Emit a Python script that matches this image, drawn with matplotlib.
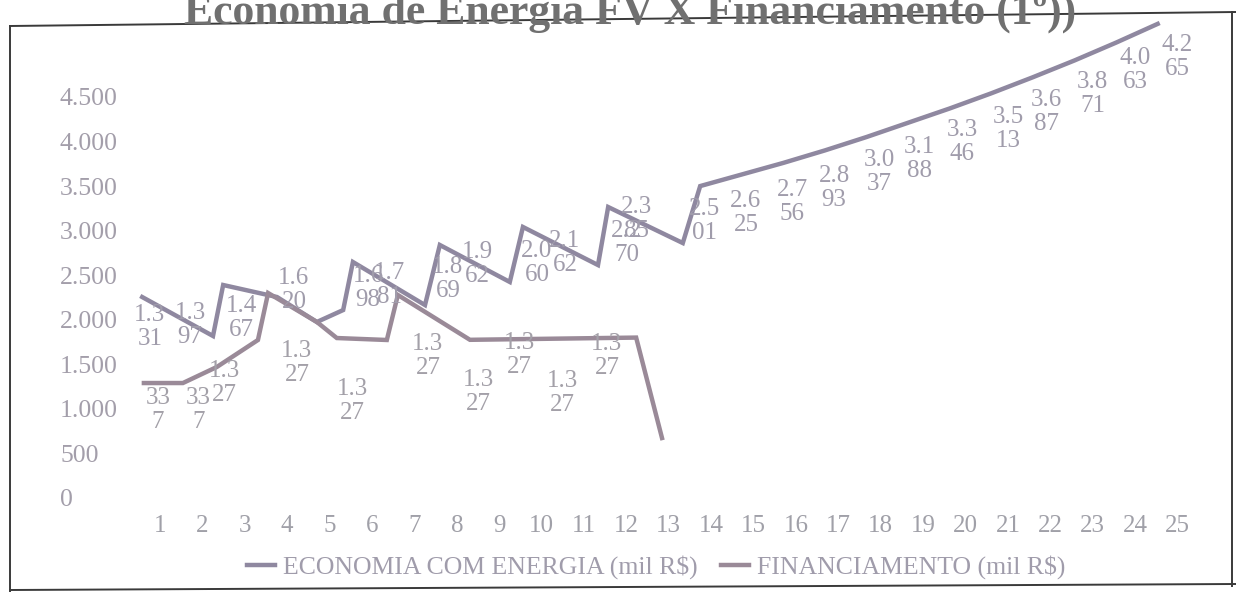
import matplotlib.pyplot as plt
from matplotlib.lines import Line2D

plt.rcParams['font.family'] = ['Liberation Serif', 'DejaVu Serif']

W, H = 1236, 592

# eixo x (anos) e eixo y
anos = list(range(1, 26))
y_ticks = [0, 500, 1000, 1500, 2000, 2500, 3000, 3500, 4000, 4500]
y_tick_labels = ['0', '500', '1.000', '1.500', '2.000', '2.500', '3.000', '3.500', '4.000', '4.500']

# linha ECONOMIA COM ENERGIA (tracado como aparece na figura)
econ_x = [0.58, 2.25, 2.49, 3.76, 4.70, 5.32, 5.55, 7.25, 7.60, 9.25, 9.56, 11.33, 11.57, 13.33,
          13.74, 14.72, 15.70, 16.68, 17.66, 18.64, 19.62, 20.60, 21.58, 22.57, 23.55, 24.53]
econ_v = [2255, 1818, 2390, 2255, 1975, 2109, 2648, 2165, 2839, 2424, 3041, 2614, 3265, 2861,
          3500, 3630, 3760, 3900, 4050, 4210, 4370, 4540, 4720, 4910, 5110, 5320]

# linha FINANCIAMENTO
fin_x = [0.62, 1.54, 2.34, 3.31, 3.55, 4.70, 5.17, 6.35, 6.61, 8.31, 12.23, 12.84]
fin_v = [1290, 1290, 1470, 1773, 2300, 1975, 1795, 1773, 2278, 1775, 1800, 673]

# rotulos de dados
econ_lbl = ['1.3\n31', '1.3\n97', '1.4\n67', '1.6\n20', '1.6\n98', '1.7\n81', '1.8\n69', '1.9\n62',
            '2.0\n60', '2.1\n62', '2.2\n70', '2.3\n85', '2.5\n01', '2.6\n25', '2.7\n56', '2.8\n93',
            '3.0\n37', '3.1\n88', '3.3\n46', '3.5\n13', '3.6\n87', '3.8\n71', '4.0\n63', '4.2\n65']
econ_lbl_x = [0.76, 1.71, 2.93, 4.16, 5.91, 6.42, 7.79, 8.48, 9.89, 10.55, 12.01, 12.25, 13.85,
              14.82, 15.91, 16.90, 17.96, 18.92, 19.92, 21.0, 21.90, 23.0, 24.0, 25.0]
econ_lbl_v = [1919, 1941, 2020, 2334, 2356, 2390, 2457, 2625, 2637, 2749, 2861, 3130, 3108,
              3198, 3321, 3478, 3658, 3804, 3994, 4140, 4331, 4533, 4802, 4948]

fin_lbl = ['33\n7', '33\n7', '1.3\n27', '1.3\n27', '1.3\n27', '1.3\n27', '1.3\n27', '1.3\n27',
           '1.3\n27', '1.3\n27']
fin_lbl_x = [0.95, 1.90, 2.53, 4.23, 5.53, 7.32, 8.50, 9.47, 10.50, 11.54]
fin_lbl_v = [987, 987, 1290, 1515, 1088, 1593, 1189, 1604, 1178, 1593]

fig = plt.figure(figsize=(W / 100, H / 100), dpi=100)
ax = fig.add_axes([100 / W, (H - 498) / H, 1120 / W, 498 / H])

l1, = ax.plot(econ_x, econ_v, color='#8f88a0', lw=3.2, solid_joinstyle='miter')
l2, = ax.plot(fin_x, fin_v, color='#9a8a98', lw=3.2, solid_joinstyle='miter')

for t, x, v in zip(econ_lbl, econ_lbl_x, econ_lbl_v):
    ax.text(x, v, t, ha='center', va='center', fontsize=18, color='#a09cab', linespacing=1.15)
for t, x, v in zip(fin_lbl, fin_lbl_x, fin_lbl_v):
    ax.text(x, v, t, ha='center', va='center', fontsize=18, color='#a3a0a8', linespacing=1.15)

ax.set_xlim(-0.415, 26.0)
ax.set_ylim(0, 5588)
ax.set_xticks(anos)
ax.set_xticklabels([str(a) for a in anos], fontsize=18, color='#a0a0a8')
ax.set_yticks(y_ticks)
ax.set_yticklabels(y_tick_labels, fontsize=18.5, color='#a39eaa')
for lab in ax.get_yticklabels():
    lab.set_horizontalalignment('left')
ax.tick_params(axis='y', length=0, pad=28.8)
ax.tick_params(axis='x', length=0, pad=12)
for s in ax.spines.values():
    s.set_visible(False)
ax.patch.set_alpha(0)

fig.legend([l1, l2], ['ECONOMIA COM ENERGIA (mil R$)', 'FINANCIAMENTO (mil R$)'],
           loc='center', bbox_to_anchor=(656 / W, 25 / H), ncol=2, frameon=False,
           fontsize=18.5, handlelength=1.1, handletextpad=0.3, columnspacing=0.9,
           labelcolor='#a09cab')

fig.text(630 / W, 1 - 24 / H, 'Economia de Energia FV X Financiamento (1º))',
         ha='center', va='baseline', fontsize=31.5, fontweight='bold', color='#707070')

# moldura (levemente inclinada como na digitalizacao)
for (x0, y0), (x1, y1) in [((10, 26), (1236, 12)), ((10, 26), (10, 592)),
                           ((10, 590), (1236, 584)), ((1232, 12), (1232, 586))]:
    fig.add_artist(Line2D([x0 / W, x1 / W], [1 - y0 / H, 1 - y1 / H],
                          transform=fig.transFigure, color='#3a3a3a', lw=1.4))

fig.savefig('out.png', dpi=100)
